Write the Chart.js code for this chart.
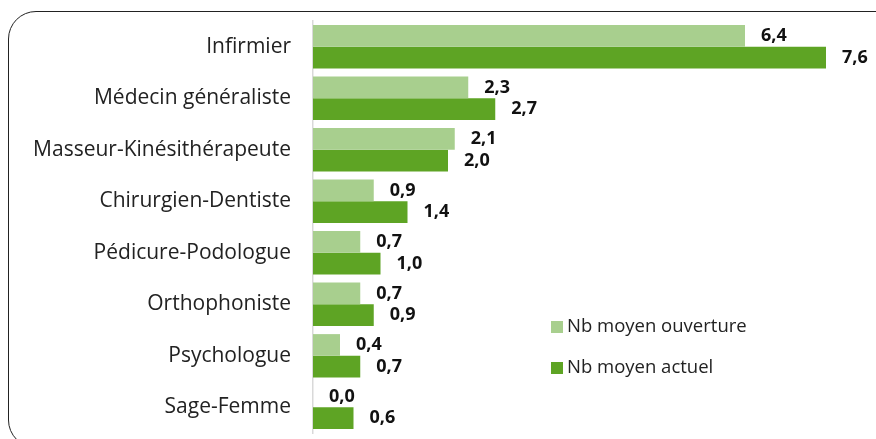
<!DOCTYPE html>
<html>
<head>
<meta charset="utf-8">
<script src="https://cdn.jsdelivr.net/npm/chart.js@4.4.1/dist/chart.umd.min.js"></script>
<style>
    html, body { margin: 0; padding: 0; background: #fff; overflow: hidden; }
    #wrap { position: relative; width: 876px; height: 439px; overflow: hidden; }
    #frame {
        position: absolute; left: 8px; top: 11px; width: 900px; height: 437px;
        border: 1.5px solid #222; border-radius: 28px; box-sizing: border-box;
    }
    #chart-1 { position: absolute; left: 0; top: 0; }
</style>
</head>
<body>
<div id="wrap">
    <div id="frame"></div>
    <canvas id="chart-1" width="876" height="439"></canvas>
</div>
<script>
const categories = [
    "Infirmier", "Médecin généraliste", "Masseur-Kinésithérapeute", "Chirurgien-Dentiste",
    "Pédicure-Podologue", "Orthophoniste", "Psychologue", "Sage-Femme"
];
const nbOuverture = [6.4, 2.3, 2.1, 0.9, 0.7, 0.7, 0.4, 0.0];
const nbActuel = [7.6, 2.7, 2.0, 1.4, 1.0, 0.9, 0.7, 0.6];
const seriesLabels = ["Nb moyen ouverture", "Nb moyen actuel"];
const colors = ["#a8cf8e", "#5ea424"];

const fontFamily = "'Open Sans', 'Noto Sans', sans-serif";

// valeurs au bout des barres
const valueLabels = {
    id: "valueLabels",
    afterDatasetsDraw(chart) {
        const ctx = chart.ctx;
        ctx.save();
        ctx.font = "bold 18px " + fontFamily;
        ctx.fillStyle = "#111";
        ctx.textAlign = "left";
        ctx.textBaseline = "middle";
        chart.data.datasets.forEach((ds, i) => {
            chart.getDatasetMeta(i).data.forEach((bar, j) => {
                ctx.fillText(ds.data[j].toFixed(1).replace(".", ","), bar.x + 16, bar.y);
            });
        });
        ctx.restore();
    },
};

// légende placée dans le graphique
const innerLegend = {
    id: "innerLegend",
    afterDraw(chart) {
        const ctx = chart.ctx;
        ctx.save();
        ctx.font = "18.5px " + fontFamily;
        ctx.textBaseline = "middle";
        ctx.textAlign = "left";
        chart.data.datasets.forEach((ds, i) => {
            const y = 327 + i * 41;
            ctx.fillStyle = ds.backgroundColor;
            ctx.fillRect(551, y - 6, 12, 12);
            ctx.fillStyle = "#222";
            ctx.fillText(ds.label, 567, y);
        });
        ctx.restore();
    },
};

const ctx1 = document.getElementById("chart-1").getContext("2d");
const myChart = new Chart(ctx1, {
    type: "bar",
    data: {
        labels: categories,
        datasets: [
            { label: seriesLabels[0], data: nbOuverture, backgroundColor: colors[0] },
            { label: seriesLabels[1], data: nbActuel, backgroundColor: colors[1] },
        ],
    },
    options: {
        indexAxis: "y",
        responsive: false,
        animation: false,
        layout: { padding: { top: 21, bottom: 6, right: 23, left: 0 } },
        datasets: {
            bar: { categoryPercentage: 0.84, barPercentage: 1.0 },
        },
        scales: {
            x: { display: false, min: 0, max: 8 },
            y: {
                afterFit(scale) {
                    scale.width = 313;
                    scale.paddingTop = 0;
                    scale.paddingBottom = 0;
                },
                grid: { display: false },
                border: { display: true, color: "#d9d9d9", width: 1.5 },
                ticks: {
                    padding: 14,
                    color: "#222",
                    font: { family: fontFamily, size: 21 },
                },
            },
        },
        plugins: {
            legend: { display: false },
            tooltip: { enabled: false },
        },
    },
    plugins: [valueLabels, innerLegend],
});
</script>
</body>
</html>
